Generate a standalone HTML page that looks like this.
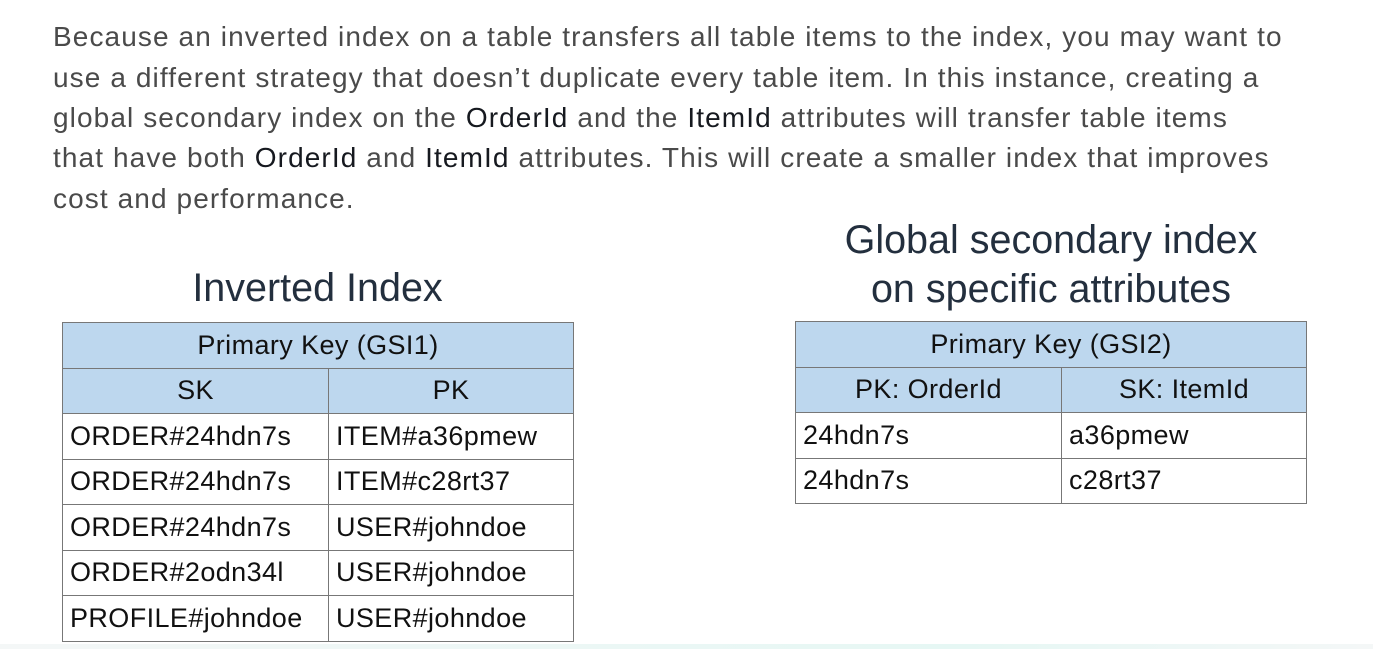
<!DOCTYPE html>
<html><head><meta charset="utf-8"><style>
body{margin:0;width:1373px;height:649px;background:#fff;position:relative;overflow:hidden;font-family:"Liberation Sans",sans-serif}
.p{position:absolute;left:53px;font-size:28px;letter-spacing:1.1px;color:#4a4a4a;white-space:nowrap;line-height:40px}
.p b{font-weight:normal;color:#16191f}
.t{position:absolute;font-size:39.5px;color:#232f3e;text-align:center;white-space:nowrap}
table{position:absolute;border-collapse:collapse;border:1.5px solid #222;font-size:27px;letter-spacing:0.4px;color:#111}
td{border:1px solid #777;padding:0 7px;height:45.5px;box-sizing:border-box;white-space:nowrap}
td.h{background:#bdd7ee;text-align:center}
</style></head><body>
<div class="p" style="top:17px">Because an inverted index on a table transfers all table items to the index, you may want to</div>
<div class="p" style="top:58px">use a different strategy that doesn’t duplicate every table item. In this instance, creating a</div>
<div class="p" style="top:98px">global secondary index on the <b>OrderId</b> and the <b>ItemId</b> attributes will transfer table items</div>
<div class="p" style="top:138px">that have both <b>OrderId</b> and <b>ItemId</b> attributes. This will create a smaller index that improves</div>
<div class="p" style="top:179px">cost and performance.</div>
<div class="t" style="left:62px;width:511px;top:266px">Inverted Index</div>
<div class="t" style="left:795px;width:512px;top:218px">Global secondary index</div>
<div class="t" style="left:795px;width:512px;top:267px">on specific attributes</div>
<table style="left:62px;top:322px;width:512px">
<tr><td class="h" colspan="2">Primary Key (GSI1)</td></tr>
<tr><td class="h" style="width:266px">SK</td><td class="h">PK</td></tr>
<tr><td>ORDER#24hdn7s</td><td>ITEM#a36pmew</td></tr>
<tr><td>ORDER#24hdn7s</td><td>ITEM#c28rt37</td></tr>
<tr><td>ORDER#24hdn7s</td><td>USER#johndoe</td></tr>
<tr><td>ORDER#2odn34l</td><td>USER#johndoe</td></tr>
<tr><td>PROFILE#johndoe</td><td>USER#johndoe</td></tr>
</table>
<table style="left:795px;top:321px;width:512px">
<tr><td class="h" colspan="2">Primary Key (GSI2)</td></tr>
<tr><td class="h" style="width:266px">PK: OrderId</td><td class="h">SK: ItemId</td></tr>
<tr><td>24hdn7s</td><td>a36pmew</td></tr>
<tr><td>24hdn7s</td><td>c28rt37</td></tr>
</table>
<div style="position:absolute;left:0;top:644px;width:1373px;height:5px;background:linear-gradient(90deg,#f4f7f7,#e6f7f4 70%,#f4f7f7)"></div>
</body></html>
